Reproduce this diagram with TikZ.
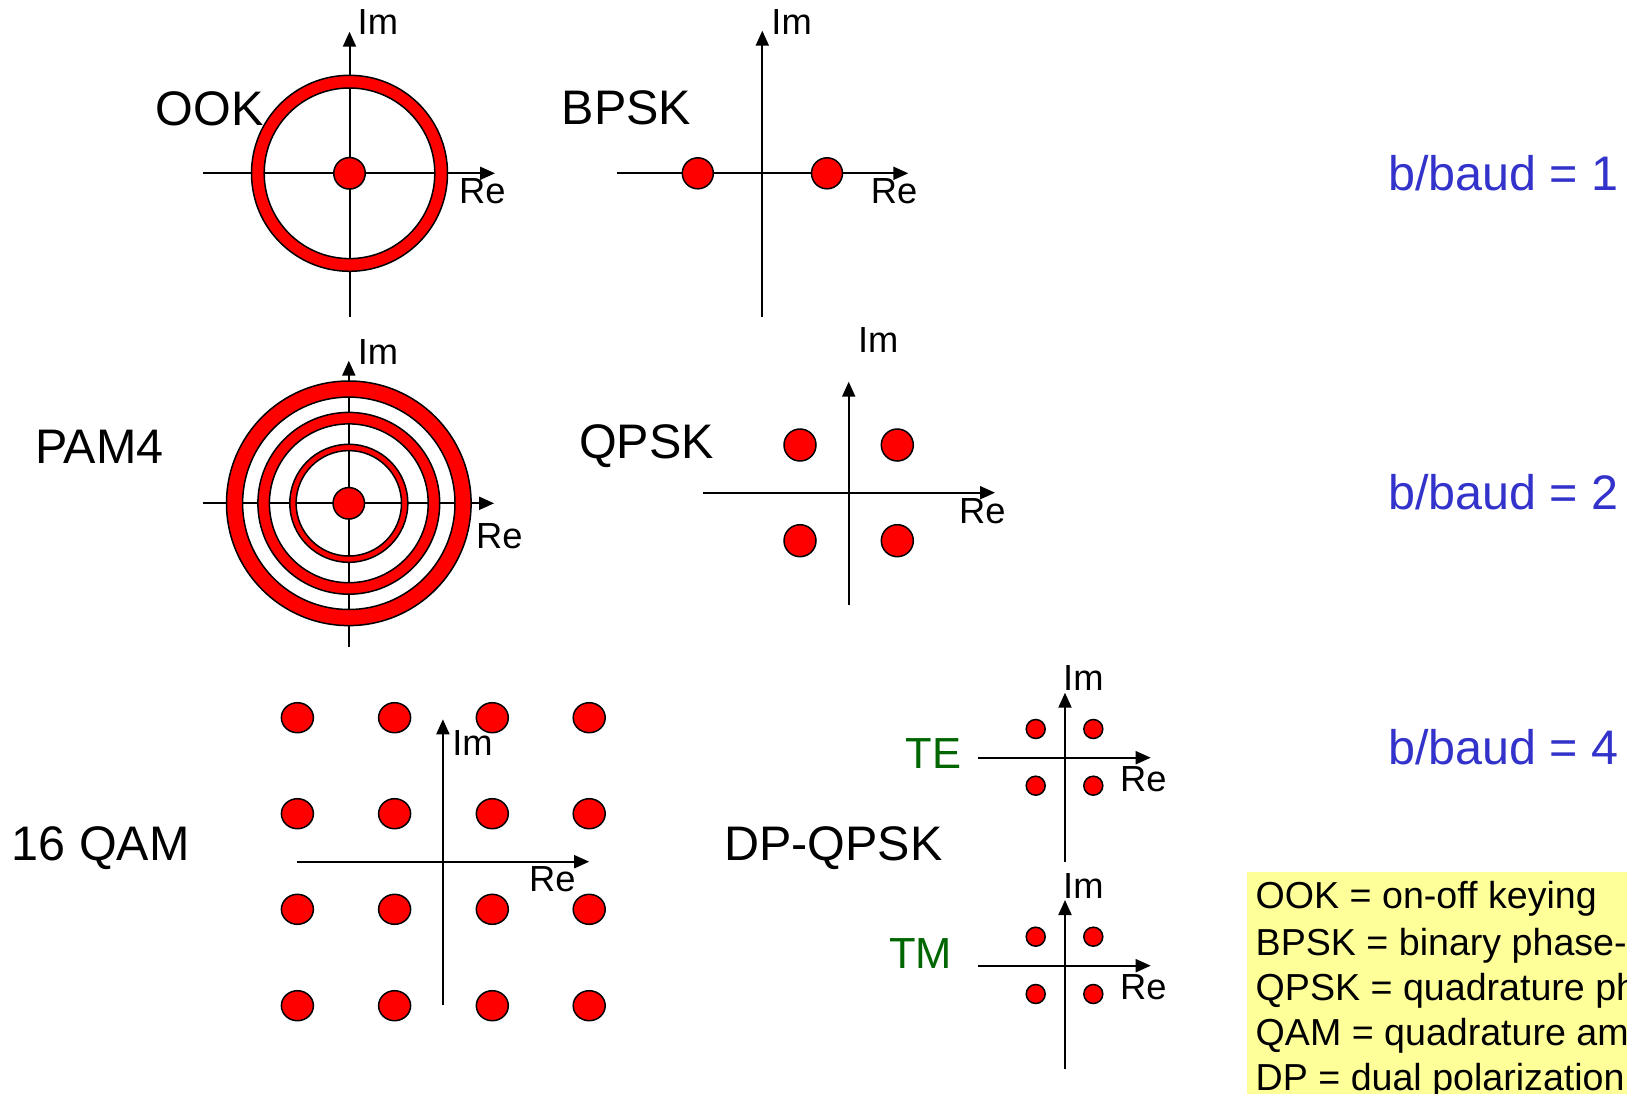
\documentclass[tikz,border=0pt]{standalone}
\usepackage{fontspec}
\setmainfont{Liberation Sans}
\usetikzlibrary{arrows.meta,shapes.geometric}
\definecolor{pred}{RGB}{255,0,0}
\definecolor{bblue}{RGB}{51,51,204}
\definecolor{dgreen}{RGB}{0,102,0}
\definecolor{lyellow}{RGB}{255,255,153}
\tikzset{
  axis/.style={line width=2pt,-{Triangle[length=15pt,width=13pt]}},
  ring/.style={fill=pred,draw=black,line width=1.5pt,even odd rule},
  dot/.style={circle,fill=pred,draw=black,line width=1.5pt,inner sep=0pt},
  qdot/.style={ellipse,fill=pred,draw=black,line width=1.5pt,inner sep=0pt,minimum width=32pt,minimum height=30pt},
  big/.style={anchor=base west,inner sep=0pt,font=\fontsize{48.5}{58}\selectfont},
  axlab/.style={anchor=base west,inner sep=0pt,font=\fontsize{36.3}{43}\selectfont},
  pol/.style={anchor=base west,inner sep=0pt,text=dgreen,font=\fontsize{43.5}{52}\selectfont},
  rate/.style={anchor=base west,inner sep=0pt,text=bblue,font=\fontsize{48.5}{58}\selectfont},
  leg/.style={anchor=base west,inner sep=0pt,font=\fontsize{37.6}{45}\selectfont},
}
\begin{document}
\begin{tikzpicture}[x=1pt,y=-1pt]
\useasboundingbox (0,0) rectangle (1627,1094);
\clip (0,0) rectangle (1627,1094);
\fill[white] (0,0) rectangle (1627,1094);

% ---------- OOK ----------
\coordinate (ookC) at (349.5,173.3);
\coordinate (ookW) at (203.3,173.3);
\coordinate (ookE) at (495,173.3);
\coordinate (ookS) at (349.5,316.7);
\coordinate (ookN) at (349.5,31.7);
\draw[axis] (ookW) -- (ookE);
\draw[axis] (ookS) -- (ookN);
\path[ring] (ookC) circle[radius=98pt] (ookC) circle[radius=85.3pt];
\node[dot,minimum size=31.5pt] (ookd) at (ookC) {};
\node[big] (ookl) at (155.5,126) {OOK};
\node[axlab] (ookim) at (357.5,35) {Im};
\node[axlab] (ookre) at (459,204) {Re};

% ---------- BPSK ----------
\coordinate (bpW) at (616.7,173.3);
\coordinate (bpE) at (908.3,173.3);
\coordinate (bpS) at (762.3,316.7);
\coordinate (bpN) at (762.3,30.7);
\draw[axis] (bpW) -- (bpE);
\draw[axis] (bpS) -- (bpN);
\node[dot,minimum size=31pt] (bp1) at (697.8,173.3) {};
\node[dot,minimum size=31pt] (bp2) at (827,173.3) {};
\node[big] (bpl) at (561.5,125) {BPSK};
\node[axlab] (bpim) at (771.2,35) {Im};
\node[axlab] (bpre) at (870.7,204) {Re};

% ---------- PAM4 ----------
\coordinate (pmC) at (348.8,503.3);
\coordinate (pmW) at (203.2,503.3);
\coordinate (pmE) at (494.1,503.3);
\coordinate (pmS) at (348.8,646.7);
\coordinate (pmN) at (348.8,360.7);
\draw[axis] (pmW) -- (pmE);
\draw[axis] (pmS) -- (pmN);
\path[ring] (pmC) circle[radius=122.3pt] (pmC) circle[radius=106.2pt];
\path[ring] (pmC) circle[radius=90.9pt] (pmC) circle[radius=79.4pt];
\path[ring] (pmC) circle[radius=59pt] (pmC) circle[radius=52.7pt];
\node[dot,minimum size=31.5pt] (pmd) at (pmC) {};
\node[big] (pml) at (35,463.3) {PAM4};
\node[axlab] (pmim) at (357.6,364.3) {Im};
\node[axlab] (pmre) at (476,548.3) {Re};

% ---------- QPSK ----------
\coordinate (qpW) at (703.3,492.7);
\coordinate (qpE) at (995,492.7);
\coordinate (qpS) at (848.7,605);
\coordinate (qpN) at (848.7,381.7);
\draw[axis] (qpW) -- (qpE);
\draw[axis] (qpS) -- (qpN);
\node[dot,minimum size=32pt] (qp1) at (800,445) {};
\node[dot,minimum size=32pt] (qp2) at (897.3,445) {};
\node[dot,minimum size=32pt] (qp3) at (800,540.7) {};
\node[dot,minimum size=32pt] (qp4) at (897.3,540.7) {};
\node[big] (qpl) at (579,458.3) {QPSK};
\node[axlab] (qpim) at (857.8,352.7) {Im};
\node[axlab] (qpre) at (959,523.3) {Re};

% ---------- 16 QAM ----------
\coordinate (qaW) at (297.4,861.7);
\coordinate (qaE) at (589.2,861.7);
\coordinate (qaS) at (442.9,1005);
\coordinate (qaN) at (442.9,719.3);
\draw[axis] (qaW) -- (qaE);
\draw[axis] (qaS) -- (qaN);
\foreach \i/\xx in {1/297.4,2/394.6,3/492.3,4/589.2}{
  \foreach \j/\yy in {1/717.7,2/813.7,3/909.3,4/1005.7}{
    \node[qdot] (qa\i\j) at (\xx,\yy) {};
  }
}
\node[big] (qal) at (11.5,860) {16 QAM};
\node[axlab] (qaim) at (452.2,755) {Im};
\node[axlab] (qare) at (529,891.7) {Re};

% ---------- DP-QPSK ----------
\node[big] (dpl) at (724,860.7) {DP-QPSK};
% TE
\coordinate (teW) at (978.3,757.7);
\coordinate (teE) at (1150.7,757.7);
\coordinate (teS) at (1065,861.7);
\coordinate (teN) at (1065,692.7);
\draw[axis] (teW) -- (teE);
\draw[axis] (teS) -- (teN);
\node[dot,minimum size=19pt] (te1) at (1035.7,729) {};
\node[dot,minimum size=19pt] (te2) at (1093.3,729) {};
\node[dot,minimum size=19pt] (te3) at (1035.7,785.7) {};
\node[dot,minimum size=19pt] (te4) at (1093.3,785.7) {};
\node[pol] (tel) at (905.5,768.3) {TE};
\node[axlab] (teim) at (1063,690.7) {Im};
\node[axlab] (tere) at (1120,791.7) {Re};
% TM
\coordinate (tmW) at (978.3,965.7);
\coordinate (tmE) at (1150.7,965.7);
\coordinate (tmS) at (1065,1069.3);
\coordinate (tmN) at (1065,900);
\draw[axis] (tmW) -- (tmE);
\draw[axis] (tmS) -- (tmN);
\node[dot,minimum size=19pt] (tm1) at (1035.7,936.7) {};
\node[dot,minimum size=19pt] (tm2) at (1093.3,936.7) {};
\node[dot,minimum size=19pt] (tm3) at (1035.7,994) {};
\node[dot,minimum size=19pt] (tm4) at (1093.3,994) {};
\node[pol] (tml) at (889,968.3) {TM};
\node[axlab] (tmim) at (1063,898.3) {Im};
\node[axlab] (tmre) at (1120,999.3) {Re};

% ---------- bits per baud ----------
\node[rate] (r1) at (1388,190.4) {b/baud = 1};
\node[rate] (r2) at (1388,509.6) {b/baud = 2};
\node[rate] (r4) at (1388,764.7) {b/baud = 4};

% ---------- legend ----------
\fill[lyellow] (1247.3,871.7) rectangle (1700,1100);
\node[leg] (lg1) at (1255.5,908.3) {OOK = on-off keying};
\node[leg] (lg2) at (1255.5,955) {BPSK = binary phase-shift keying};
\node[leg] (lg3) at (1255.5,1000) {QPSK = quadrature phase-shift keying};
\node[leg] (lg4) at (1255.5,1045) {QAM = quadrature amplitude modulation};
\node[leg] (lg5) at (1255.5,1090) {DP = dual polarization};
\end{tikzpicture}
\end{document}
